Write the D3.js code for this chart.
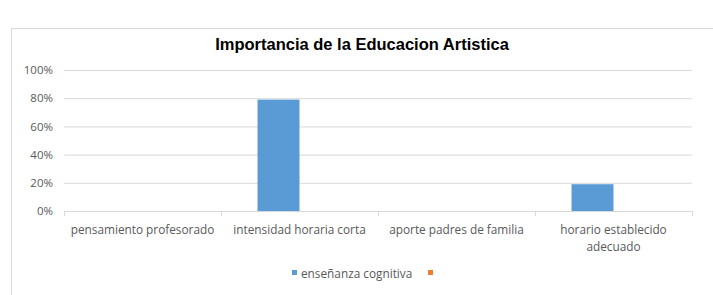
<!DOCTYPE html>
<html>
<head>
<meta charset="utf-8">
<script src="https://cdn.jsdelivr.net/npm/d3@7"></script>
<style>
  body { margin: 0; background: #fff; }
  text { font-family: "Open Sans", "Noto Sans", sans-serif; }
</style>
</head>
<body>
<div id="chart"></div>
<script>
// Data
var categories = ["pensamiento profesorado", "intensidad horaria corta", "aporte padres de familia", "horario establecido adecuado"];
var seriesNames = ["enseñanza cognitiva", ""];
var cognitiva = [0, 0.79, 0, 0.19];
var otra = [0, 0, 0, 0];
var yTicks = [0, 0.2, 0.4, 0.6, 0.8, 1];

var colors = ["#5b9bd5", "#ed7d31"];

var svgWidth = 713, svgHeight = 295;
var margin = { top: 70, right: 21, bottom: 84, left: 64 };
var chartWidth = svgWidth - margin.left - margin.right;
var chartHeight = svgHeight - margin.top - margin.bottom;

var svg = d3.select("#chart")
    .append("svg")
    .attr("width", svgWidth)
    .attr("height", svgHeight);

// chart border
svg.append("rect")
    .attr("x", 11.5).attr("y", 28.5)
    .attr("width", 712).attr("height", 300)
    .attr("fill", "#fff")
    .attr("stroke", "#d9d9d9");

var chartGroup = svg.append("g")
    .attr("transform", `translate(${margin.left}, ${margin.top})`);

var xScale = d3.scaleBand()
    .domain(categories)
    .range([0, chartWidth]);

var xInner = d3.scaleBand()
    .domain(seriesNames.map((d, i) => i))
    .range([0, xScale.bandwidth()])
    .paddingOuter(0.87)
    .paddingInner(0);

var yScale = d3.scaleLinear()
    .domain([0, 1])
    .range([chartHeight, 0]);

// gridlines
chartGroup.append("g")
    .call(d3.axisLeft(yScale).tickValues(yTicks).tickSize(-chartWidth).tickFormat(""))
    .call(g => g.select(".domain").remove())
    .selectAll("line")
    .attr("stroke", "#d9d9d9");

// y labels
chartGroup.append("g")
    .call(d3.axisLeft(yScale).tickValues(yTicks).tickSize(0).tickPadding(11).tickFormat(d3.format(".0%")))
    .call(g => g.select(".domain").remove())
    .selectAll("text")
    .style("font-size", "11.5px")
    .attr("fill", "#595959");

// bars
var allSeries = [cognitiva, otra];
allSeries.forEach(function(vals, s) {
    chartGroup.selectAll(".bar" + s)
        .data(vals)
        .enter()
        .append("rect")
        .attr("x", (d, i) => xScale(categories[i]) + xInner(s))
        .attr("y", d => yScale(d))
        .attr("width", xInner.bandwidth())
        .attr("height", d => chartHeight - yScale(d))
        .attr("fill", colors[s]);
});

// x axis line and ticks
chartGroup.append("line")
    .attr("x1", 0).attr("x2", chartWidth)
    .attr("y1", chartHeight + 0.5).attr("y2", chartHeight + 0.5)
    .attr("stroke", "#d9d9d9");

var boundaries = categories.map(c => xScale(c)).concat([chartWidth]);
chartGroup.selectAll(".xtick")
    .data(boundaries)
    .enter()
    .append("line")
    .attr("x1", d => Math.round(d) + 0.5).attr("x2", d => Math.round(d) + 0.5)
    .attr("y1", chartHeight).attr("y2", chartHeight + 5)
    .attr("stroke", "#d9d9d9");

// category labels (wrapped)
var wrapped = {
    "horario establecido adecuado": ["horario establecido", "adecuado"]
};
categories.forEach(function(c) {
    var lines = wrapped[c] || [c];
    var t = chartGroup.append("text")
        .attr("x", xScale(c) + xScale.bandwidth() / 2)
        .attr("y", chartHeight + 23)
        .attr("text-anchor", "middle")
        .style("font-size", "11.8px")
        .attr("fill", "#595959");
    lines.forEach(function(l, i) {
        t.append("tspan")
            .attr("x", xScale(c) + xScale.bandwidth() / 2)
            .attr("dy", i === 0 ? 0 : 17)
            .text(l);
    });
});

// title
svg.append("text")
    .attr("x", 362)
    .attr("y", 50)
    .attr("text-anchor", "middle")
    .style("font-family", "'Liberation Sans', Arial, sans-serif")
    .style("font-size", "16.5px")
    .style("font-weight", "bold")
    .attr("fill", "#000")
    .text("Importancia de la Educacion Artistica");

// legend
var legend = svg.append("g");
legend.append("rect")
    .attr("x", 292).attr("y", 270)
    .attr("width", 5).attr("height", 5)
    .attr("fill", colors[0]);
legend.append("text")
    .attr("x", 301).attr("y", 278)
    .style("font-size", "11.8px")
    .attr("fill", "#595959")
    .text(seriesNames[0]);
legend.append("rect")
    .attr("x", 428).attr("y", 270)
    .attr("width", 5).attr("height", 5)
    .attr("fill", colors[1]);
</script>
</body>
</html>
